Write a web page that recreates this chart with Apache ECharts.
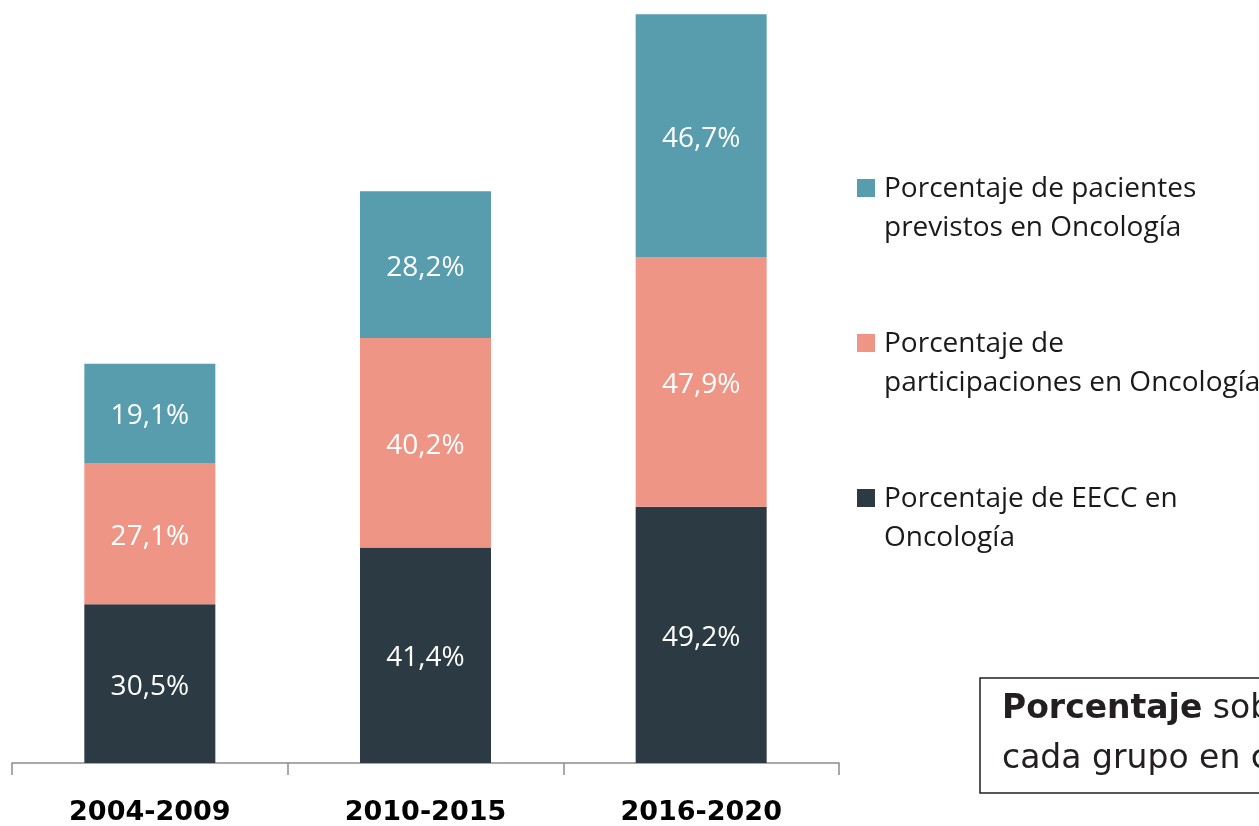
<!DOCTYPE html>
<html>
<head>
<meta charset="utf-8">
<script src="https://cdn.jsdelivr.net/npm/echarts@6/dist/echarts.min.js"></script>
<style>
  html, body { margin: 0; padding: 0; background: #ffffff; }
  #chart { width: 1259px; height: 826px; }
</style>
</head>
<body>
<div id="chart"></div>
<script>
// Periods on the x axis
const periods = ['2004-2009', '2010-2015', '2016-2020'];

// Stacked shares (%), bottom to top
const eeccOnco = [30.5, 41.4, 49.2];
const participacionesOnco = [27.1, 40.2, 47.9];
const pacientesOnco = [19.1, 28.2, 46.7];

// Series names (legend text)
const nameEecc = 'Porcentaje de EECC en\nOncología';
const nameParticipaciones = 'Porcentaje de\nparticipaciones en Oncología';
const namePacientes = 'Porcentaje de pacientes\nprevistos en Oncología';

const colors = { eecc: '#2c3a44', part: '#ef9585', pac: '#589dae' };
const labelFont = '"Open Sans", sans-serif';

const fmt = p => p.value.toFixed(1).replace('.', ',') + '%';

function barSeries(name, data, color) {
  return {
    name, type: 'bar', stack: 'total', data,
    barWidth: 131,
    itemStyle: { color },
    label: {
      show: true, position: 'inside', formatter: fmt, offset: [0, 3],
      color: '#ffffff', fontFamily: labelFont, fontSize: 28
    }
  };
}

const chart = echarts.init(document.getElementById('chart'), null, { renderer: 'canvas' });

// Legend entries, top to bottom
const legendItems = [
  { name: namePacientes, color: colors.pac, y: 179 },
  { name: nameParticipaciones, color: colors.part, y: 334 },
  { name: nameEecc, color: colors.eecc, y: 489 }
];

const graphics = [];
legendItems.forEach(it => {
  graphics.push({
    type: 'rect', x: 857, y: it.y, shape: { x: 0, y: 0, width: 18, height: 18 },
    style: { fill: it.color }
  });
  graphics.push({
    type: 'text', x: 884, y: it.y - 9,
    style: {
      text: it.name, fill: '#1a1a1a', font: '28px "Open Sans", sans-serif',
      lineHeight: 39, verticalAlign: 'top', align: 'left'
    }
  });
});

// Note box at bottom right (runs off the canvas edge)
const noteFont = '"DejaVu Sans", sans-serif';
graphics.push({
  type: 'rect', x: 980, y: 678,
  shape: { x: 0, y: 0, width: 330, height: 115 },
  style: { fill: '#ffffff', stroke: '#231f20', lineWidth: 1.5 }
});
graphics.push({
  type: 'text', x: 1002, y: 684,
  style: {
    text: '{b|Porcentaje} sobre el total de\ncada grupo en cada periodo',
    fill: '#231f20',
    font: '33px ' + noteFont,
    lineHeight: 50, verticalAlign: 'top', align: 'left',
    rich: {
      b: { fontWeight: 'bold', fontSize: 33, fontFamily: noteFont, fill: '#231f20', lineHeight: 50 }
    }
  }
});

chart.setOption({
  animation: false,
  backgroundColor: '#ffffff',
  grid: { left: 12, right: 420, top: 8, bottom: 61, containLabel: false },
  xAxis: {
    type: 'category', data: periods,
    axisLine: { lineStyle: { color: '#8c8c8c', width: 1.5 } },
    axisTick: { show: true, length: 12, lineStyle: { color: '#8c8c8c', width: 1.5 } },
    axisLabel: {
      margin: 36, color: '#000000', fontFamily: '"DejaVu Sans", sans-serif', fontWeight: 'bold', fontSize: 27
    }
  },
  yAxis: {
    type: 'value', min: 0, max: 145, show: false,
    splitLine: { show: false }
  },
  series: [
    barSeries(nameEecc, eeccOnco, colors.eecc),
    barSeries(nameParticipaciones, participacionesOnco, colors.part),
    barSeries(namePacientes, pacientesOnco, colors.pac)
  ],
  graphic: graphics
});
</script>
</body>
</html>
